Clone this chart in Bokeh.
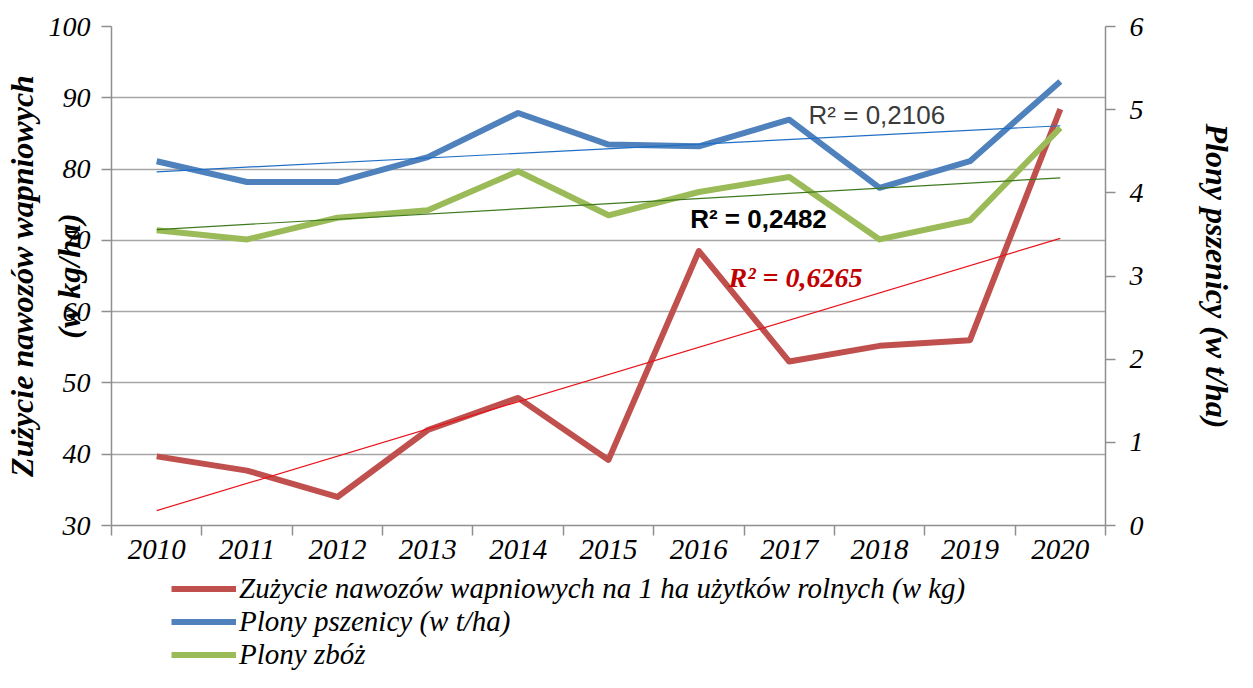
import numpy as np
from bokeh.plotting import figure
from bokeh.layouts import column
from bokeh.models import Range1d, LinearAxis, FixedTicker, Label, Legend, LegendItem
from bokeh.embed import file_html
from bokeh.resources import INLINE

# ---------------- data ----------------
years = ["2010", "2011", "2012", "2013", "2014", "2015", "2016", "2017", "2018", "2019", "2020"]
wapno = [39.7, 37.7, 34.0, 43.4, 47.9, 39.2, 68.5, 53.0, 55.2, 56.0, 88.4]      # kg/ha (left axis)
pszenica = [4.38, 4.13, 4.13, 4.43, 4.96, 4.58, 4.56, 4.88, 4.06, 4.38, 5.34]  # t/ha (right axis)
zboza = [3.55, 3.44, 3.70, 3.79, 4.26, 3.73, 4.01, 4.19, 3.44, 3.67, 4.78]     # t/ha (right axis)
left_ticks = [30, 40, 50, 60, 70, 80, 90, 100]
right_ticks = [0, 1, 2, 3, 4, 5, 6]
legend_labels = [
    "Zużycie nawozów wapniowych na 1 ha użytków rolnych (w kg)",
    "Plony pszenicy (w t/ha)",
    "Plony zbóż",
]
r2_wapno = "R² = 0,6265"
r2_pszenica = "R² = 0,2106"
r2_zboza = "R² = 0,2482"
left_title_1 = "Zużycie nawozów wapniowych"
left_title_2 = "(w kg/ha)"
right_title = "Plony pszenicy (w t/ha)"

SERIF = "Liberation Serif"
SANS = "Liberation Sans"
RED, BLUE, GREEN = "#C0504D", "#4F81BD", "#9BBB59"
AXIS_GREY = "#8f8f8f"

W, H_MAIN, H_LEG = 1237, 572, 100
BORDER_L, BORDER_R = 110, 132

x = np.arange(len(years))

p = figure(width=W, height=H_MAIN, output_backend="svg", toolbar_location=None,
           x_range=Range1d(-0.5, len(years) - 0.5),
           y_range=Range1d(left_ticks[0], left_ticks[-1]),
           min_border_left=BORDER_L, min_border_right=BORDER_R,
           min_border_top=26, min_border_bottom=47)
p.outline_line_color = None
p.background_fill_color = "white"
p.border_fill_color = "white"
p.extra_y_ranges = {"right": Range1d(right_ticks[0], right_ticks[-1])}

# x axis: labels at category centres, ticks at category boundaries
xa = p.xaxis[0]
xa.ticker = FixedTicker(ticks=list(x), minor_ticks=list(np.arange(len(years) + 1) - 0.5))
xa.major_label_overrides = {int(i): y for i, y in zip(x, years)}
xa.major_tick_line_color = None
xa.major_tick_in = 0
xa.major_tick_out = 10
xa.minor_tick_line_color = AXIS_GREY
xa.minor_tick_line_width = 1.5
xa.minor_tick_in = 0
xa.minor_tick_out = 10
xa.axis_line_color = AXIS_GREY
xa.axis_line_width = 1.5
xa.major_label_standoff = 4
xa.major_label_text_font = SERIF
xa.major_label_text_font_style = "italic"
xa.major_label_text_font_size = "29px"
xa.major_label_text_color = "black"

def title_style(ax, text, standoff):
    ax.axis_label = text
    ax.axis_label_text_font = SERIF
    ax.axis_label_text_font_style = "bold italic"
    ax.axis_label_text_font_size = "32px"
    ax.axis_label_text_color = "black"
    ax.axis_label_standoff = standoff

ya = p.yaxis[0]
ya.ticker = FixedTicker(ticks=left_ticks)
ya.minor_tick_line_color = None
ya.major_tick_line_color = AXIS_GREY
ya.major_tick_line_width = 1.5
ya.major_tick_in = 0
ya.major_tick_out = 10
ya.axis_line_color = AXIS_GREY
ya.axis_line_width = 1.5
ya.major_label_standoff = 11
ya.major_label_text_font = SERIF
ya.major_label_text_font_style = "italic"
ya.major_label_text_font_size = "28px"
ya.major_label_text_color = "black"
title_style(ya, left_title_2, -41)   # inner title line, overlapping the tick labels as in the original

# outer title line: an axis without ticks that only carries the label
ya2 = LinearAxis(ticker=FixedTicker(ticks=[]))
ya2.axis_line_color = None
ya2.major_tick_line_color = None
ya2.minor_tick_line_color = None
ya2.major_tick_out = 0
ya2.minor_tick_out = 0
ya2.major_label_text_font_size = "0px"
title_style(ya2, left_title_1, 8)
p.add_layout(ya2, "left")

ra = LinearAxis(y_range_name="right", ticker=FixedTicker(ticks=right_ticks))
ra.minor_tick_line_color = None
ra.major_tick_line_color = AXIS_GREY
ra.major_tick_line_width = 1.5
ra.major_tick_in = 0
ra.major_tick_out = 10
ra.axis_line_color = AXIS_GREY
ra.axis_line_width = 1.5
ra.major_label_standoff = 14
ra.major_label_text_font = SERIF
ra.major_label_text_font_style = "italic"
ra.major_label_text_font_size = "28px"
ra.major_label_text_color = "black"
title_style(ra, right_title, 52)
p.add_layout(ra, "right")

p.xgrid.visible = False
p.ygrid.grid_line_color = "#a6a6a6"
p.ygrid.grid_line_width = 1.5

# series
r_w = p.line(x, wapno, line_color=RED, line_width=6, line_join="round")
r_p = p.line(x, pszenica, line_color=BLUE, line_width=6, line_join="round", y_range_name="right")
r_z = p.line(x, zboza, line_color=GREEN, line_width=6, line_join="round", y_range_name="right")

# linear trend lines (least squares fit of the series)
xe = np.array([x[0], x[-1]], dtype=float)
cw = np.polyfit(x, wapno, 1)
cp = np.polyfit(x, pszenica, 1)
cz = np.polyfit(x, zboza, 1)
p.line(xe, np.polyval(cp, xe), line_color="#1F6FC5", line_width=1.2, y_range_name="right")
p.line(xe, np.polyval(cz, xe), line_color="#3F7A1F", line_width=1.2, y_range_name="right")
p.line(xe, np.polyval(cw, xe), line_color="#E8121B", line_width=1.2)

# R² labels
p.add_layout(Label(x=7.97, y=4.93, y_range_name="right", text=r2_pszenica, text_font=SANS,
                   text_font_size="26px", text_color="#3a3a3a", text_align="center",
                   text_baseline="middle"))
p.add_layout(Label(x=6.66, y=3.69, y_range_name="right", text=r2_zboza, text_font=SANS,
                   text_font_size="26px", text_font_style="bold", text_color="black",
                   text_align="center", text_baseline="middle"))
p.add_layout(Label(x=7.07, y=64.8, text=r2_wapno, text_font=SERIF,
                   text_font_size="28px", text_font_style="bold italic", text_color="#C00000",
                   text_align="center", text_baseline="middle"))

# legend: separate strip under the chart (same frame borders so both frames align).
# Its renderers carry the series but the strip's ranges keep them out of view.
lf = figure(width=W, height=H_LEG, output_backend="svg", toolbar_location=None,
            x_axis_type=None, y_axis_type=None,
            x_range=Range1d(-20, -10), y_range=Range1d(-20, -10),
            min_border_left=BORDER_L, min_border_right=BORDER_R,
            min_border_top=0, min_border_bottom=0)
lf.outline_line_color = None
lf.border_fill_color = "white"
lg_w = lf.line(x, wapno, line_color=RED, line_width=6)
lg_p = lf.line(x, pszenica, line_color=BLUE, line_width=6)
lg_z = lf.line(x, zboza, line_color=GREEN, line_width=6)
legend = Legend(items=[LegendItem(label=legend_labels[0], renderers=[lg_w]),
                       LegendItem(label=legend_labels[1], renderers=[lg_p]),
                       LegendItem(label=legend_labels[2], renderers=[lg_z])],
                location=(60, 1), orientation="vertical",
                glyph_width=65, glyph_height=33, label_height=33,
                spacing=0, padding=0, margin=0, label_standoff=3,
                border_line_color=None, background_fill_alpha=0,
                label_text_font=SERIF, label_text_font_style="italic",
                label_text_font_size="29px", label_text_color="black")
lf.add_layout(legend)

layout = column(p, lf, spacing=0)
open("out.html", "w").write(file_html(layout, INLINE))
